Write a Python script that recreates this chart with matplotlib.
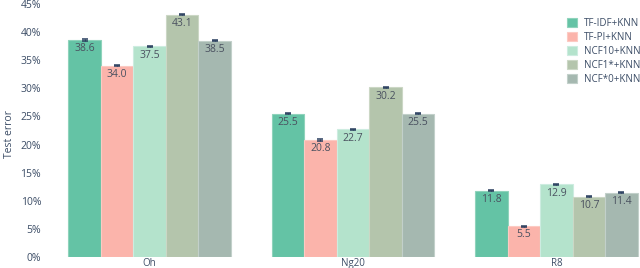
import matplotlib.pyplot as plt
import numpy as np

plt.rcParams['font.family'] = ['Open Sans', 'DejaVu Sans']

datasets = ['Oh', 'Ng20', 'R8']
methods = ['TF-IDF+KNN', 'TF-PI+KNN', 'NCF10+KNN', 'NCF1*+KNN', 'NCF*0+KNN']
errors = [
    [38.6, 25.5, 11.8],
    [34.0, 20.8, 5.5],
    [37.5, 22.7, 12.9],
    [43.1, 30.2, 10.7],
    [38.5, 25.5, 11.4],
]
stds = [
    [0.1, 0.1, 0.1],
    [0.1, 0.1, 0.1],
    [0.1, 0.1, 0.1],
    [0.1, 0.1, 0.1],
    [0.1, 0.1, 0.1],
]
colors = ['#64c3a5', '#fbb4ab', '#b4e3cc', '#b4c5ac', '#a5b8b0']
edges = ['#8fd3bb', '#fccac3', '#cdece0', '#cbd7c5', '#c2d0ca']

txt = '#3c4d66'
fig = plt.figure(figsize=(6.4, 2.68), dpi=100)
# plot area runs past the right edge, like the cropped original
ax = fig.add_axes([48 / 640, 11 / 268, 610 / 640, 253 / 268])

x = np.arange(len(datasets))
w = 0.8 / len(methods)
for i, m in enumerate(methods):
    pos = x - 0.4 + w * (i + 0.5)
    ax.bar(pos, errors[i], width=w, color=colors[i], edgecolor=edges[i],
           linewidth=0.8, label=m, zorder=2)
    ax.errorbar(pos, errors[i], yerr=stds[i], fmt='none', ecolor='#2a3f5f',
                elinewidth=0.8, capsize=2.5, capthick=1.1, zorder=3)
    for p, v in zip(pos, errors[i]):
        ax.text(p, v - 0.6, '%.1f' % v, ha='center', va='top',
                fontsize=7.5, color='#4a5160', zorder=4)

ax.set_xlim(-0.5, 2.5)
ax.set_ylim(0, 45)
ax.set_xticks(x)
ax.set_xticklabels(datasets)
ax.set_yticks(range(0, 46, 5))
ax.set_yticklabels(['%d%%' % t for t in range(0, 46, 5)])
ax.tick_params(length=0, labelsize=7.5, colors=txt)
ax.tick_params(axis='x', pad=0.5, labelsize=7)
ax.tick_params(axis='y', pad=5)
for s in ax.spines.values():
    s.set_visible(False)
fig.text(10 / 640, 0.5, 'Test error', rotation=90, ha='center', va='center',
         fontsize=7.5, color=txt)

leg = fig.legend(loc='upper left', bbox_to_anchor=(563 / 640, 1 - 14 / 268),
                 frameon=False, fontsize=7, handlelength=1.0, handleheight=1.0,
                 handletextpad=0.8, labelspacing=0.3, borderaxespad=0)
for t in leg.get_texts():
    t.set_color(txt)

fig.savefig('out.png', dpi=100)
